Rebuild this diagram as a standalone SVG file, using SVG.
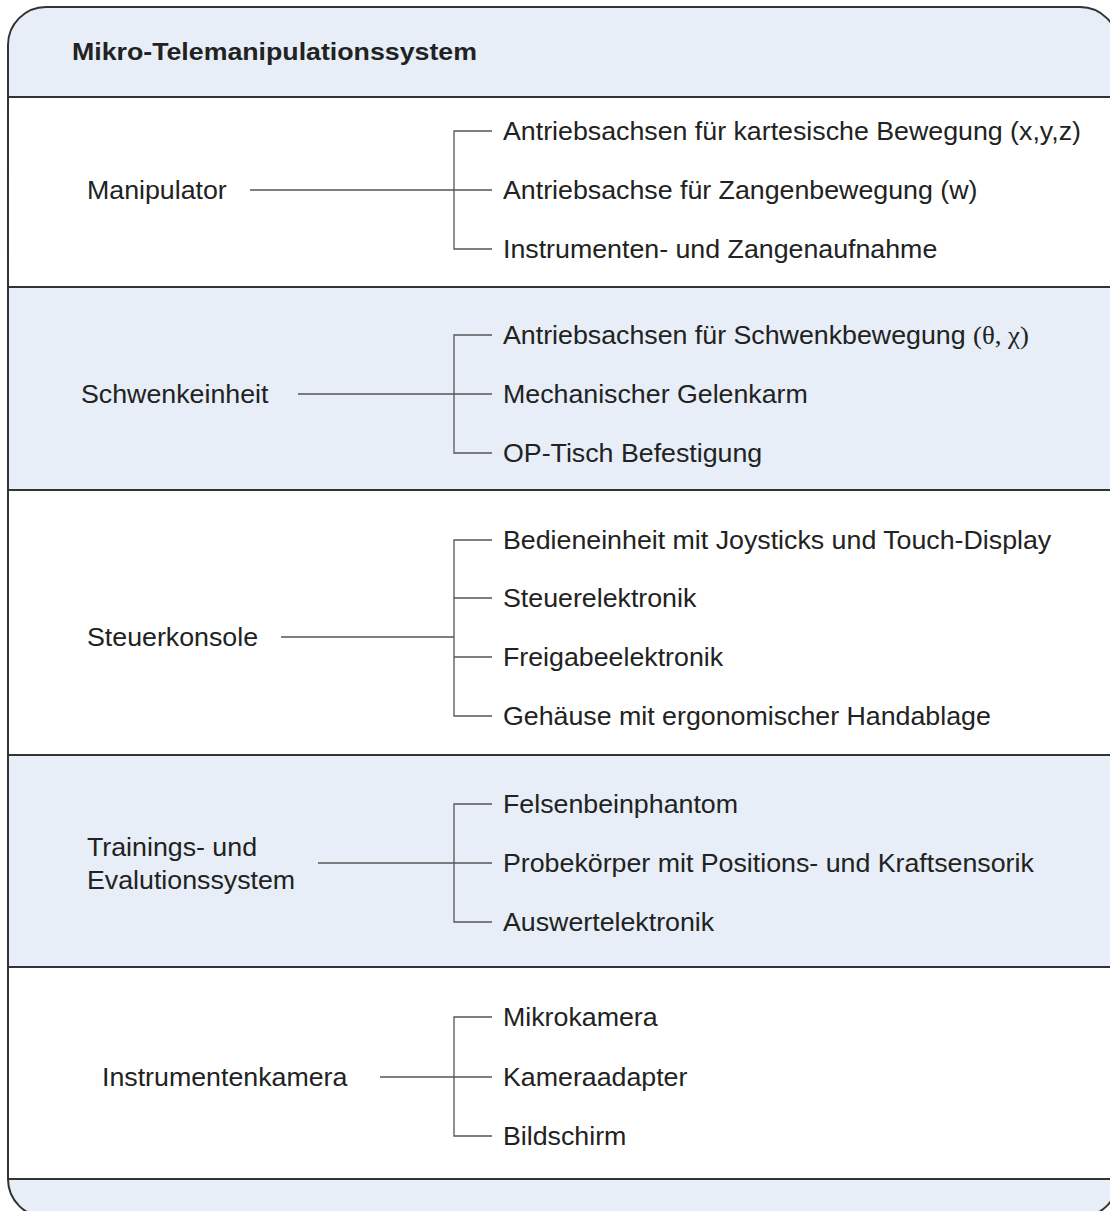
<svg xmlns="http://www.w3.org/2000/svg" width="1110" height="1211" viewBox="0 0 1110 1211">
<style>
.band{fill:#e7eef7}
.sep{stroke:#333;stroke-width:2}
.c{stroke:#555;stroke-width:1.3;fill:none}
.t{font-family:"Liberation Sans",Arial,sans-serif;font-size:25.5px;fill:#222}
.h{font-family:"Liberation Sans",Arial,sans-serif;font-size:23.5px;font-weight:bold;fill:#222}
.g{font-family:"Liberation Serif","Times New Roman",serif}
</style>
<defs>
<clipPath id="box"><rect x="8" y="7" width="1110" height="1210" rx="38" ry="38"/></clipPath>
</defs>
<g id="frame">
<rect x="8" y="7" width="1110" height="1210" rx="38" ry="38" fill="#fff"/>
<g clip-path="url(#box)">
<rect class="band" x="0" y="0" width="1110" height="97"/>
<rect class="band" x="0" y="287" width="1110" height="203"/>
<rect class="band" x="0" y="755" width="1110" height="212"/>
<rect class="band" x="0" y="1179" width="1110" height="40"/>
</g>
<line class="sep" x1="8" y1="97" x2="1110" y2="97"/>
<line class="sep" x1="8" y1="287" x2="1110" y2="287"/>
<line class="sep" x1="8" y1="490" x2="1110" y2="490"/>
<line class="sep" x1="8" y1="755" x2="1110" y2="755"/>
<line class="sep" x1="8" y1="967" x2="1110" y2="967"/>
<line class="sep" x1="8" y1="1179" x2="1110" y2="1179"/>
<rect x="8" y="7" width="1110" height="1210" rx="38" ry="38" fill="none" stroke="#333" stroke-width="2"/>
</g>
<g id="title"><text class="h" x="72" y="60" transform="matrix(1.138 0 0 1 -9.94 0)">Mikro-Telemanipulationssystem</text></g>
<g id="connectors">
<path class="c" d="M250 190H454M492 131H454V249H492M454 190H492"/>
<path class="c" d="M298 394H454M492 335H454V453H492M454 394H492"/>
<path class="c" d="M281 637H454M492 540H454V716H492M454 598H492M454 657H492"/>
<path class="c" d="M318 863H454M492 804H454V922H492M454 863H492"/>
<path class="c" d="M380 1077H454M492 1017H454V1136H492M454 1077H492"/>
</g>
<g id="manipulator">
<text class="t" x="87" y="199" transform="matrix(1.05 0 0 1 -4.35 0)">Manipulator</text>
<g transform="matrix(1.05 0 0 1 -25.15 0)">
<text class="t" x="503" y="140">Antriebsachsen für kartesische Bewegung (x,y,z)</text>
<text class="t" x="503" y="199">Antriebsachse für Zangenbewegung (w)</text>
<text class="t" x="503" y="258">Instrumenten- und Zangenaufnahme</text>
</g>
</g>
<g id="schwenkeinheit">
<text class="t" x="81" y="403" transform="matrix(1.05 0 0 1 -4.05 0)">Schwenkeinheit</text>
<g transform="matrix(1.05 0 0 1 -25.15 0)">
<text class="t" x="503" y="344">Antriebsachsen für Schwenkbewegung <tspan class="g">(θ, χ)</tspan></text>
<text class="t" x="503" y="403">Mechanischer Gelenkarm</text>
<text class="t" x="503" y="462">OP-Tisch Befestigung</text>
</g>
</g>
<g id="steuerkonsole">
<text class="t" x="87" y="646" transform="matrix(1.05 0 0 1 -4.35 0)">Steuerkonsole</text>
<g transform="matrix(1.05 0 0 1 -25.15 0)">
<text class="t" x="503" y="549">Bedieneinheit mit Joysticks und Touch-Display</text>
<text class="t" x="503" y="607">Steuerelektronik</text>
<text class="t" x="503" y="666">Freigabeelektronik</text>
<text class="t" x="503" y="725">Gehäuse mit ergonomischer Handablage</text>
</g>
</g>
<g id="training">
<g transform="matrix(1.05 0 0 1 -4.35 0)">
<text class="t" x="87" y="856">Trainings- und</text>
<text class="t" x="87" y="889">Evalutionssystem</text>
</g>
<g transform="matrix(1.05 0 0 1 -25.15 0)">
<text class="t" x="503" y="813">Felsenbeinphantom</text>
<text class="t" x="503" y="872">Probekörper mit Positions- und Kraftsensorik</text>
<text class="t" x="503" y="931">Auswertelektronik</text>
</g>
</g>
<g id="kamera">
<text class="t" x="102" y="1086" transform="matrix(1.05 0 0 1 -5.1 0)">Instrumentenkamera</text>
<g transform="matrix(1.05 0 0 1 -25.15 0)">
<text class="t" x="503" y="1026">Mikrokamera</text>
<text class="t" x="503" y="1086">Kameraadapter</text>
<text class="t" x="503" y="1145">Bildschirm</text>
</g>
</g>
</svg>
